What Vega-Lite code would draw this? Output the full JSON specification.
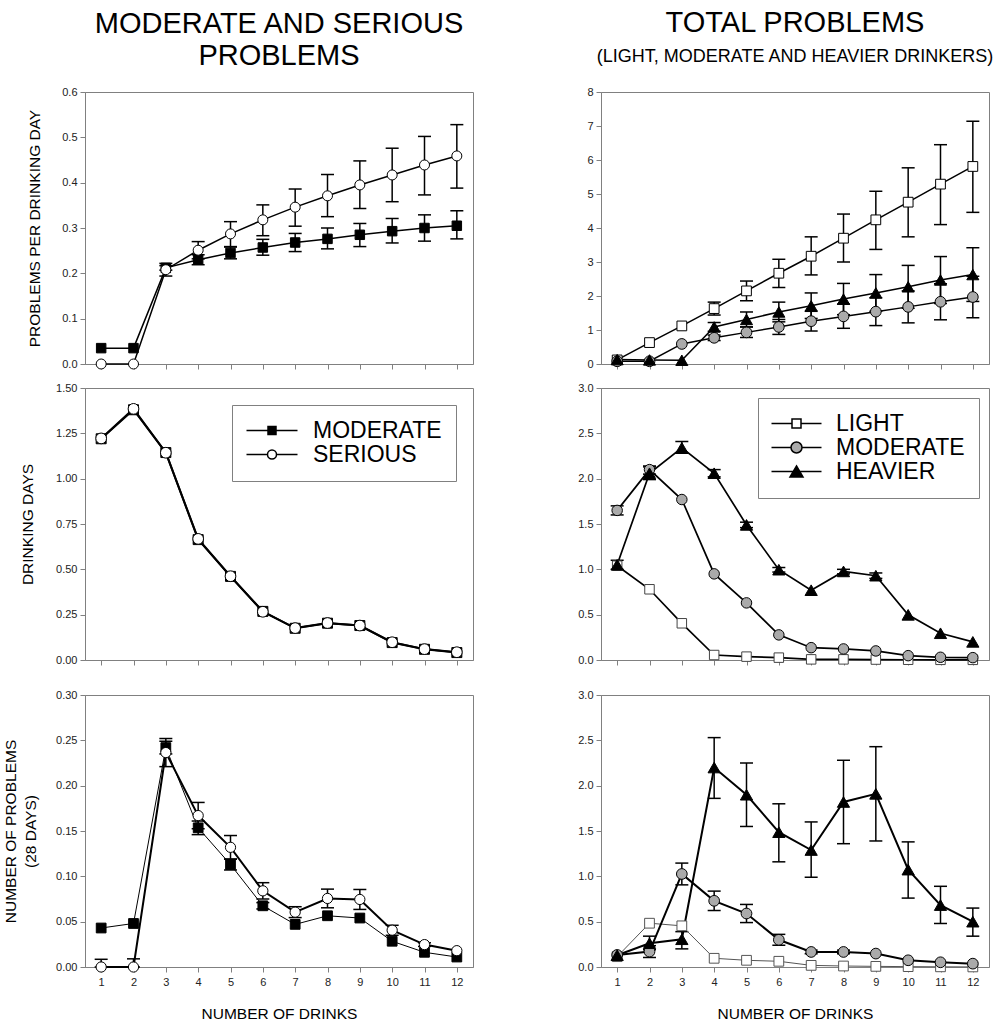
{
"$schema":"https://vega.github.io/schema/vega-lite/v6.json",
"background":"white",
"padding":{"left":2,"top":8,"right":5,"bottom":5},
"columns":2,
"spacing":{"row":9,"column":103},
"resolve":{"scale":{"fill":"independent","stroke":"independent","shape":"independent","size":"independent","strokeWidth":"independent","xOffset":"independent"}},
"datasets":{
"A":[
{"drinks":1,"group":"MODERATE","value":0.035},{"drinks":2,"group":"MODERATE","value":0.035},
{"drinks":3,"group":"MODERATE","value":0.212,"lo":0.207,"hi":0.217},{"drinks":4,"group":"MODERATE","value":0.230,"lo":0.219,"hi":0.241},
{"drinks":5,"group":"MODERATE","value":0.245,"lo":0.232,"hi":0.258},{"drinks":6,"group":"MODERATE","value":0.257,"lo":0.240,"hi":0.275},
{"drinks":7,"group":"MODERATE","value":0.268,"lo":0.248,"hi":0.288},{"drinks":8,"group":"MODERATE","value":0.276,"lo":0.254,"hi":0.300},
{"drinks":9,"group":"MODERATE","value":0.285,"lo":0.259,"hi":0.310},{"drinks":10,"group":"MODERATE","value":0.293,"lo":0.267,"hi":0.321},
{"drinks":11,"group":"MODERATE","value":0.300,"lo":0.271,"hi":0.329},{"drinks":12,"group":"MODERATE","value":0.305,"lo":0.276,"hi":0.338},
{"drinks":1,"group":"SERIOUS","value":0.0},{"drinks":2,"group":"SERIOUS","value":0.0},
{"drinks":3,"group":"SERIOUS","value":0.208,"lo":0.194,"hi":0.222},{"drinks":4,"group":"SERIOUS","value":0.251,"lo":0.232,"hi":0.270},
{"drinks":5,"group":"SERIOUS","value":0.287,"lo":0.259,"hi":0.314},{"drinks":6,"group":"SERIOUS","value":0.318,"lo":0.283,"hi":0.351},
{"drinks":7,"group":"SERIOUS","value":0.346,"lo":0.304,"hi":0.386},{"drinks":8,"group":"SERIOUS","value":0.371,"lo":0.325,"hi":0.418},
{"drinks":9,"group":"SERIOUS","value":0.395,"lo":0.343,"hi":0.448},{"drinks":10,"group":"SERIOUS","value":0.417,"lo":0.358,"hi":0.476},
{"drinks":11,"group":"SERIOUS","value":0.439,"lo":0.373,"hi":0.502},{"drinks":12,"group":"SERIOUS","value":0.459,"lo":0.388,"hi":0.528}
],
"B":[
{"drinks":1,"group":"LIGHT","value":0.12},{"drinks":2,"group":"LIGHT","value":0.63},{"drinks":3,"group":"LIGHT","value":1.12},
{"drinks":4,"group":"LIGHT","value":1.63,"lo":1.44,"hi":1.82},{"drinks":5,"group":"LIGHT","value":2.15,"lo":1.86,"hi":2.44},
{"drinks":6,"group":"LIGHT","value":2.67,"lo":2.25,"hi":3.08},{"drinks":7,"group":"LIGHT","value":3.17,"lo":2.62,"hi":3.74},
{"drinks":8,"group":"LIGHT","value":3.70,"lo":3.00,"hi":4.41},{"drinks":9,"group":"LIGHT","value":4.24,"lo":3.37,"hi":5.08},
{"drinks":10,"group":"LIGHT","value":4.76,"lo":3.74,"hi":5.77},{"drinks":11,"group":"LIGHT","value":5.29,"lo":4.10,"hi":6.45},
{"drinks":12,"group":"LIGHT","value":5.81,"lo":4.46,"hi":7.14},
{"drinks":1,"group":"MODERATE","value":0.08},{"drinks":2,"group":"MODERATE","value":0.08},{"drinks":3,"group":"MODERATE","value":0.59},
{"drinks":4,"group":"MODERATE","value":0.77,"lo":0.69,"hi":0.85},{"drinks":5,"group":"MODERATE","value":0.93,"lo":0.78,"hi":1.09},
{"drinks":6,"group":"MODERATE","value":1.09,"lo":0.87,"hi":1.31},{"drinks":7,"group":"MODERATE","value":1.26,"lo":0.97,"hi":1.55},
{"drinks":8,"group":"MODERATE","value":1.40,"lo":1.05,"hi":1.76},{"drinks":9,"group":"MODERATE","value":1.54,"lo":1.13,"hi":1.95},
{"drinks":10,"group":"MODERATE","value":1.68,"lo":1.21,"hi":2.15},{"drinks":11,"group":"MODERATE","value":1.83,"lo":1.30,"hi":2.36},
{"drinks":12,"group":"MODERATE","value":1.97,"lo":1.36,"hi":2.58},
{"drinks":1,"group":"HEAVIER","value":0.13},{"drinks":2,"group":"HEAVIER","value":0.12},{"drinks":3,"group":"HEAVIER","value":0.11},
{"drinks":4,"group":"HEAVIER","value":1.09,"lo":0.96,"hi":1.22},{"drinks":5,"group":"HEAVIER","value":1.31,"lo":1.09,"hi":1.53},
{"drinks":6,"group":"HEAVIER","value":1.53,"lo":1.24,"hi":1.82},{"drinks":7,"group":"HEAVIER","value":1.71,"lo":1.34,"hi":2.09},
{"drinks":8,"group":"HEAVIER","value":1.91,"lo":1.45,"hi":2.37},{"drinks":9,"group":"HEAVIER","value":2.09,"lo":1.55,"hi":2.63},
{"drinks":10,"group":"HEAVIER","value":2.27,"lo":1.64,"hi":2.90},{"drinks":11,"group":"HEAVIER","value":2.47,"lo":1.78,"hi":3.16},
{"drinks":12,"group":"HEAVIER","value":2.63,"lo":1.84,"hi":3.42}
],
"C":[
{"drinks":1,"group":"MODERATE","value":1.22},{"drinks":2,"group":"MODERATE","value":1.38},{"drinks":3,"group":"MODERATE","value":1.144},
{"drinks":4,"group":"MODERATE","value":0.664},{"drinks":5,"group":"MODERATE","value":0.461},{"drinks":6,"group":"MODERATE","value":0.268},
{"drinks":7,"group":"MODERATE","value":0.175},{"drinks":8,"group":"MODERATE","value":0.203},{"drinks":9,"group":"MODERATE","value":0.19},
{"drinks":10,"group":"MODERATE","value":0.096},{"drinks":11,"group":"MODERATE","value":0.059},{"drinks":12,"group":"MODERATE","value":0.041},
{"drinks":1,"group":"SERIOUS","value":1.222},{"drinks":2,"group":"SERIOUS","value":1.385},{"drinks":3,"group":"SERIOUS","value":1.143},
{"drinks":4,"group":"SERIOUS","value":0.668},{"drinks":5,"group":"SERIOUS","value":0.462},{"drinks":6,"group":"SERIOUS","value":0.266},
{"drinks":7,"group":"SERIOUS","value":0.176},{"drinks":8,"group":"SERIOUS","value":0.204},{"drinks":9,"group":"SERIOUS","value":0.19},
{"drinks":10,"group":"SERIOUS","value":0.098},{"drinks":11,"group":"SERIOUS","value":0.06},{"drinks":12,"group":"SERIOUS","value":0.043}
],
"D":[
{"drinks":1,"group":"LIGHT","value":1.04},{"drinks":2,"group":"LIGHT","value":0.78},{"drinks":3,"group":"LIGHT","value":0.405},
{"drinks":4,"group":"LIGHT","value":0.055},{"drinks":5,"group":"LIGHT","value":0.037},{"drinks":6,"group":"LIGHT","value":0.026},
{"drinks":7,"group":"LIGHT","value":0.007},{"drinks":8,"group":"LIGHT","value":0.007},{"drinks":9,"group":"LIGHT","value":0.005},
{"drinks":10,"group":"LIGHT","value":0.003},{"drinks":11,"group":"LIGHT","value":0.002},{"drinks":12,"group":"LIGHT","value":0.002},
{"drinks":1,"group":"MODERATE","value":1.65,"lo":1.60,"hi":1.70},{"drinks":2,"group":"MODERATE","value":2.10,"lo":2.05,"hi":2.14},
{"drinks":3,"group":"MODERATE","value":1.77},{"drinks":4,"group":"MODERATE","value":0.95},{"drinks":5,"group":"MODERATE","value":0.63},
{"drinks":6,"group":"MODERATE","value":0.277},{"drinks":7,"group":"MODERATE","value":0.136},{"drinks":8,"group":"MODERATE","value":0.122},
{"drinks":9,"group":"MODERATE","value":0.10},{"drinks":10,"group":"MODERATE","value":0.048},{"drinks":11,"group":"MODERATE","value":0.03},
{"drinks":12,"group":"MODERATE","value":0.026},
{"drinks":1,"group":"HEAVIER","value":1.05,"lo":1.00,"hi":1.10},{"drinks":2,"group":"HEAVIER","value":2.06,"lo":1.99,"hi":2.13},
{"drinks":3,"group":"HEAVIER","value":2.34,"lo":2.28,"hi":2.41},{"drinks":4,"group":"HEAVIER","value":2.06,"lo":2.02,"hi":2.10},
{"drinks":5,"group":"HEAVIER","value":1.49,"lo":1.46,"hi":1.52},{"drinks":6,"group":"HEAVIER","value":0.996,"lo":0.97,"hi":1.02},
{"drinks":7,"group":"HEAVIER","value":0.77},{"drinks":8,"group":"HEAVIER","value":0.977,"lo":0.95,"hi":1.00},
{"drinks":9,"group":"HEAVIER","value":0.93,"lo":0.90,"hi":0.96},{"drinks":10,"group":"HEAVIER","value":0.498},
{"drinks":11,"group":"HEAVIER","value":0.295},{"drinks":12,"group":"HEAVIER","value":0.20}
],
"E":[
{"drinks":1,"group":"MODERATE","value":0.043},{"drinks":2,"group":"MODERATE","value":0.048},
{"drinks":3,"group":"MODERATE","value":0.242,"lo":0.235,"hi":0.249},{"drinks":4,"group":"MODERATE","value":0.1535,"lo":0.146,"hi":0.161},
{"drinks":5,"group":"MODERATE","value":0.113,"lo":0.107,"hi":0.119},{"drinks":6,"group":"MODERATE","value":0.0675,"lo":0.064,"hi":0.071},
{"drinks":7,"group":"MODERATE","value":0.047},{"drinks":8,"group":"MODERATE","value":0.0565},{"drinks":9,"group":"MODERATE","value":0.054},
{"drinks":10,"group":"MODERATE","value":0.0284},{"drinks":11,"group":"MODERATE","value":0.0162},{"drinks":12,"group":"MODERATE","value":0.011},
{"drinks":1,"group":"SERIOUS","value":0.0,"lo":0.0,"hi":0.0085},{"drinks":2,"group":"SERIOUS","value":0.0,"lo":0.0,"hi":0.009},
{"drinks":3,"group":"SERIOUS","value":0.2365,"lo":0.221,"hi":0.252},{"drinks":4,"group":"SERIOUS","value":0.167,"lo":0.1525,"hi":0.1815},
{"drinks":5,"group":"SERIOUS","value":0.132,"lo":0.119,"hi":0.145},{"drinks":6,"group":"SERIOUS","value":0.084,"lo":0.075,"hi":0.093},
{"drinks":7,"group":"SERIOUS","value":0.0605,"lo":0.0545,"hi":0.0665},{"drinks":8,"group":"SERIOUS","value":0.0756,"lo":0.0653,"hi":0.0859},
{"drinks":9,"group":"SERIOUS","value":0.0745,"lo":0.0635,"hi":0.0855},{"drinks":10,"group":"SERIOUS","value":0.0406,"lo":0.035,"hi":0.046},
{"drinks":11,"group":"SERIOUS","value":0.0247,"lo":0.0227,"hi":0.0267},{"drinks":12,"group":"SERIOUS","value":0.018}
],
"F":[
{"drinks":1,"group":"LIGHT","value":0.114},{"drinks":2,"group":"LIGHT","value":0.483},{"drinks":3,"group":"LIGHT","value":0.454},
{"drinks":4,"group":"LIGHT","value":0.096},{"drinks":5,"group":"LIGHT","value":0.074},{"drinks":6,"group":"LIGHT","value":0.063},
{"drinks":7,"group":"LIGHT","value":0.018},{"drinks":8,"group":"LIGHT","value":0.011},{"drinks":9,"group":"LIGHT","value":0.007},
{"drinks":10,"group":"LIGHT","value":0.004},{"drinks":11,"group":"LIGHT","value":0.002},{"drinks":12,"group":"LIGHT","value":0.001},
{"drinks":1,"group":"MODERATE","value":0.133},{"drinks":2,"group":"MODERATE","value":0.17,"lo":0.105,"hi":0.235},
{"drinks":3,"group":"MODERATE","value":1.026,"lo":0.906,"hi":1.146},{"drinks":4,"group":"MODERATE","value":0.73,"lo":0.623,"hi":0.837},
{"drinks":5,"group":"MODERATE","value":0.59,"lo":0.49,"hi":0.69},{"drinks":6,"group":"MODERATE","value":0.30,"lo":0.24,"hi":0.36},
{"drinks":7,"group":"MODERATE","value":0.166,"lo":0.146,"hi":0.186},{"drinks":8,"group":"MODERATE","value":0.166,"lo":0.146,"hi":0.186},
{"drinks":9,"group":"MODERATE","value":0.148},{"drinks":10,"group":"MODERATE","value":0.074},{"drinks":11,"group":"MODERATE","value":0.052},
{"drinks":12,"group":"MODERATE","value":0.037},
{"drinks":1,"group":"HEAVIER","value":0.13},{"drinks":2,"group":"HEAVIER","value":0.262,"lo":0.19,"hi":0.34},
{"drinks":3,"group":"HEAVIER","value":0.306,"lo":0.2,"hi":0.39},{"drinks":4,"group":"HEAVIER","value":2.2,"lo":1.86,"hi":2.53},
{"drinks":5,"group":"HEAVIER","value":1.9,"lo":1.55,"hi":2.25},{"drinks":6,"group":"HEAVIER","value":1.487,"lo":1.16,"hi":1.80},
{"drinks":7,"group":"HEAVIER","value":1.29,"lo":0.99,"hi":1.60},{"drinks":8,"group":"HEAVIER","value":1.82,"lo":1.36,"hi":2.28},
{"drinks":9,"group":"HEAVIER","value":1.91,"lo":1.39,"hi":2.43},{"drinks":10,"group":"HEAVIER","value":1.074,"lo":0.76,"hi":1.38},
{"drinks":11,"group":"HEAVIER","value":0.683,"lo":0.48,"hi":0.89},{"drinks":12,"group":"HEAVIER","value":0.50,"lo":0.34,"hi":0.65}
]
},
"concat":[
{
"width":388,"height":272,"data":{"name":"A"},
"title":{"text":["MODERATE AND SERIOUS","PROBLEMS"],"lineHeight":32,"offset":15},
"encoding":{
"x":{"field":"drinks","type":"quantitative","scale":{"domain":[0.5,12.5],"nice":false,"zero":false},"axis":{"values":[1,2,3,4,5,6,7,8,9,10,11,12],"labels":false,"title":null}},
"xOffset":{"field":"group","type":"nominal","scale":{"type":"band","domain":["MODERATE","SERIOUS"],"range":[-6.5,6.5],"padding":0}}
},
"layer":[
{"transform":[{"filter":"isValid(datum.lo)"}],"mark":{"type":"rule","stroke":"black","strokeWidth":1.5},
"encoding":{"y":{"field":"lo","type":"quantitative","scale":{"domain":[0,0.6],"nice":false},"axis":{"values":[0,0.1,0.2,0.3,0.4,0.5,0.6],"format":".1f","title":"PROBLEMS PER DRINKING DAY","titleX":-51,"titleBaseline":"middle"}},"y2":{"field":"hi"}}},
{"transform":[{"filter":"isValid(datum.lo)"}],"mark":{"type":"point","shape":"M-1,0H1","filled":false,"stroke":"black","strokeWidth":1.5,"size":169,"opacity":1},
"encoding":{"y":{"field":"lo","type":"quantitative","scale":{"domain":[0,0.6],"nice":false},"axis":{"values":[0,0.1,0.2,0.3,0.4,0.5,0.6],"format":".1f","title":"PROBLEMS PER DRINKING DAY","titleX":-51,"titleBaseline":"middle"}}}},
{"transform":[{"filter":"isValid(datum.hi)"}],"mark":{"type":"point","shape":"M-1,0H1","filled":false,"stroke":"black","strokeWidth":1.5,"size":169,"opacity":1},
"encoding":{"y":{"field":"hi","type":"quantitative","scale":{"domain":[0,0.6],"nice":false},"axis":{"values":[0,0.1,0.2,0.3,0.4,0.5,0.6],"format":".1f","title":"PROBLEMS PER DRINKING DAY","titleX":-51,"titleBaseline":"middle"}}}},
{"mark":{"type":"line"},
"encoding":{"y":{"field":"value","type":"quantitative","scale":{"domain":[0,0.6],"nice":false},"axis":{"values":[0,0.1,0.2,0.3,0.4,0.5,0.6],"format":".1f","title":"PROBLEMS PER DRINKING DAY","titleX":-51,"titleBaseline":"middle"}},
"stroke":{"field":"group","type":"nominal","scale":{"domain":["MODERATE","SERIOUS"],"range":["black","black"]},"legend":null},
"strokeWidth":{"field":"group","type":"nominal","scale":{"type":"ordinal","domain":["MODERATE","SERIOUS"],"range":[1.5,1.5]},"legend":null}}},
{"mark":{"type":"point","filled":true,"opacity":1,"strokeWidth":1},
"encoding":{"y":{"field":"value","type":"quantitative","scale":{"domain":[0,0.6],"nice":false},"axis":{"values":[0,0.1,0.2,0.3,0.4,0.5,0.6],"format":".1f","title":"PROBLEMS PER DRINKING DAY","titleX":-51,"titleBaseline":"middle"}},
"shape":{"field":"group","type":"nominal","scale":{"domain":["MODERATE","SERIOUS"],"range":["square","circle"]},"legend":null},
"fill":{"field":"group","type":"nominal","scale":{"domain":["MODERATE","SERIOUS"],"range":["black","white"]},"legend":null},
"stroke":{"field":"group","type":"nominal","scale":{"domain":["MODERATE","SERIOUS"],"range":["black","black"]},"legend":null},
"size":{"field":"group","type":"nominal","scale":{"type":"ordinal","domain":["MODERATE","SERIOUS"],"range":[90,100]},"legend":null}}}
]
},
{
"width":388,"height":272,"data":{"name":"B"},
"title":{"text":"TOTAL PROBLEMS","subtitle":"(LIGHT, MODERATE AND HEAVIER DRINKERS)","offset":20,"subtitlePadding":10},
"encoding":{
"x":{"field":"drinks","type":"quantitative","scale":{"domain":[0.5,12.5],"nice":false,"zero":false},"axis":{"values":[1,2,3,4,5,6,7,8,9,10,11,12],"labels":false,"title":null}},
"xOffset":{"field":"group","type":"nominal","scale":{"type":"band","domain":["LIGHT","MODERATE","HEAVIER"],"range":[-5.5,5.5],"padding":0}}
},
"layer":[
{"transform":[{"filter":"isValid(datum.lo)"}],"mark":{"type":"rule","stroke":"black","strokeWidth":1.5},
"encoding":{"y":{"field":"lo","type":"quantitative","scale":{"domain":[0,8],"nice":false},"axis":{"values":[0,1,2,3,4,5,6,7,8],"format":"d","title":null}},"y2":{"field":"hi"}}},
{"transform":[{"filter":"isValid(datum.lo)"}],"mark":{"type":"point","shape":"M-1,0H1","filled":false,"stroke":"black","strokeWidth":1.5,"size":169,"opacity":1},
"encoding":{"y":{"field":"lo","type":"quantitative","scale":{"domain":[0,8],"nice":false},"axis":{"values":[0,1,2,3,4,5,6,7,8],"format":"d","title":null}}}},
{"transform":[{"filter":"isValid(datum.hi)"}],"mark":{"type":"point","shape":"M-1,0H1","filled":false,"stroke":"black","strokeWidth":1.5,"size":169,"opacity":1},
"encoding":{"y":{"field":"hi","type":"quantitative","scale":{"domain":[0,8],"nice":false},"axis":{"values":[0,1,2,3,4,5,6,7,8],"format":"d","title":null}}}},
{"mark":{"type":"line"},
"encoding":{"y":{"field":"value","type":"quantitative","scale":{"domain":[0,8],"nice":false},"axis":{"values":[0,1,2,3,4,5,6,7,8],"format":"d","title":null}},
"stroke":{"field":"group","type":"nominal","scale":{"domain":["LIGHT","MODERATE","HEAVIER"],"range":["black","black","black"]},"legend":null},
"strokeWidth":{"field":"group","type":"nominal","scale":{"type":"ordinal","domain":["LIGHT","MODERATE","HEAVIER"],"range":[1.5,1.5,1.5]},"legend":null}}},
{"mark":{"type":"point","filled":true,"opacity":1,"strokeWidth":1},
"encoding":{"y":{"field":"value","type":"quantitative","scale":{"domain":[0,8],"nice":false},"axis":{"values":[0,1,2,3,4,5,6,7,8],"format":"d","title":null}},
"shape":{"field":"group","type":"nominal","scale":{"domain":["LIGHT","MODERATE","HEAVIER"],"range":["square","circle","triangle-up"]},"legend":null},
"fill":{"field":"group","type":"nominal","scale":{"domain":["LIGHT","MODERATE","HEAVIER"],"range":["white","#aaaaaa","black"]},"legend":null},
"stroke":{"field":"group","type":"nominal","scale":{"domain":["LIGHT","MODERATE","HEAVIER"],"range":["black","black","black"]},"legend":null},
"size":{"field":"group","type":"nominal","scale":{"type":"ordinal","domain":["LIGHT","MODERATE","HEAVIER"],"range":[95,115,145]},"legend":null}}}
]
},
{
"width":388,"height":272,"data":{"name":"C"},
"encoding":{
"x":{"field":"drinks","type":"quantitative","scale":{"domain":[0.5,12.5],"nice":false,"zero":false},"axis":{"values":[1,2,3,4,5,6,7,8,9,10,11,12],"labels":false,"title":null,"minExtent":18}},
"xOffset":{"field":"group","type":"nominal","scale":{"type":"band","domain":["MODERATE","SERIOUS"],"range":[-7,7],"padding":0}},
"y":{"field":"value","type":"quantitative","scale":{"domain":[0,1.5],"nice":false},"axis":{"values":[0,0.25,0.5,0.75,1,1.25,1.5],"format":".2f","title":"DRINKING DAYS","titleX":-58,"titleBaseline":"middle"}}
},
"layer":[
{"mark":{"type":"line","stroke":"black","strokeWidth":2},"encoding":{"detail":{"field":"group","type":"nominal"}}},
{"transform":[{"filter":"datum.group === 'MODERATE'"}],"mark":{"type":"point","shape":"square","filled":true,"fill":"black","stroke":"black","strokeWidth":1,"size":100,"opacity":1},"encoding":{}},
{"transform":[{"filter":"datum.group === 'SERIOUS'"}],"mark":{"type":"point","shape":"circle","filled":true,"fill":"white","stroke":"black","strokeWidth":1,"size":115,"opacity":1},"encoding":{}},
{"mark":{"type":"point","filled":true,"opacity":0},
"encoding":{
"shape":{"field":"group","type":"nominal","scale":{"domain":["MODERATE","SERIOUS"],"range":["M-5.1,0H-0.8M0.8,0H5.1M-0.8,-0.8H0.8V0.8H-0.8Z","M-5.1,0H-0.9M0.9,0H5.1M0.9,0C0.9,0.497 0.497,0.9 0,0.9C-0.497,0.9 -0.9,0.497 -0.9,0C-0.9,-0.497 -0.497,-0.9 0,-0.9C0.497,-0.9 0.9,-0.497 0.9,0Z"]},
"legend":{"title":null,"orient":"top-right","offset":17,"symbolSize":100,"symbolOffset":14.5,"labelOffset":29.5,"symbolOpacity":1,"symbolStrokeWidth":1.5}},
"fill":{"field":"group","type":"nominal","scale":{"domain":["MODERATE","SERIOUS"],"range":["black","white"]},
"legend":{"title":null,"orient":"top-right","offset":17,"symbolSize":100,"symbolOffset":14.5,"labelOffset":29.5,"symbolOpacity":1,"symbolStrokeWidth":1.5}},
"stroke":{"field":"group","type":"nominal","scale":{"domain":["MODERATE","SERIOUS"],"range":["black","black"]},
"legend":{"title":null,"orient":"top-right","offset":17,"symbolSize":100,"symbolOffset":14.5,"labelOffset":29.5,"symbolOpacity":1,"symbolStrokeWidth":1.5}}}}
]
},
{
"width":388,"height":272,"data":{"name":"D"},
"encoding":{
"x":{"field":"drinks","type":"quantitative","scale":{"domain":[0.5,12.5],"nice":false,"zero":false},"axis":{"values":[1,2,3,4,5,6,7,8,9,10,11,12],"labels":false,"title":null,"minExtent":18}},
"xOffset":{"field":"group","type":"nominal","scale":{"type":"band","domain":["LIGHT","MODERATE","HEAVIER"],"range":[-5.5,5.5],"padding":0}},
"y":{"field":"value","type":"quantitative","scale":{"domain":[0,3],"nice":false},"axis":{"values":[0,0.5,1,1.5,2,2.5,3],"format":".1f","title":null}}
},
"layer":[
{"transform":[{"filter":"isValid(datum.lo)"}],"mark":{"type":"rule","stroke":"black","strokeWidth":1.5},
"encoding":{"y":{"field":"lo","type":"quantitative","scale":{"domain":[0,3],"nice":false},"axis":{"values":[0,0.5,1,1.5,2,2.5,3],"format":".1f","title":null}},"y2":{"field":"hi"}}},
{"transform":[{"filter":"isValid(datum.lo)"}],"mark":{"type":"point","shape":"M-1,0H1","filled":false,"stroke":"black","strokeWidth":1.5,"size":169,"opacity":1},
"encoding":{"y":{"field":"lo","type":"quantitative","scale":{"domain":[0,3],"nice":false},"axis":{"values":[0,0.5,1,1.5,2,2.5,3],"format":".1f","title":null}}}},
{"transform":[{"filter":"isValid(datum.hi)"}],"mark":{"type":"point","shape":"M-1,0H1","filled":false,"stroke":"black","strokeWidth":1.5,"size":169,"opacity":1},
"encoding":{"y":{"field":"hi","type":"quantitative","scale":{"domain":[0,3],"nice":false},"axis":{"values":[0,0.5,1,1.5,2,2.5,3],"format":".1f","title":null}}}},
{"mark":{"type":"line","stroke":"black","strokeWidth":1.7},"encoding":{"detail":{"field":"group","type":"nominal"}}},
{"transform":[{"filter":"datum.group === 'LIGHT'"}],"mark":{"type":"point","shape":"square","filled":true,"fill":"white","stroke":"#444444","strokeWidth":1,"size":90,"opacity":1},"encoding":{}},
{"transform":[{"filter":"datum.group === 'MODERATE'"}],"mark":{"type":"point","shape":"circle","filled":true,"fill":"#aaaaaa","stroke":"black","strokeWidth":1,"size":110,"opacity":1},"encoding":{}},
{"transform":[{"filter":"datum.group === 'HEAVIER'"}],"mark":{"type":"point","shape":"triangle-up","filled":true,"fill":"black","stroke":"black","strokeWidth":1,"size":150,"opacity":1},"encoding":{}},
{"mark":{"type":"point","filled":true,"opacity":0},
"encoding":{
"shape":{"field":"group","type":"nominal","scale":{"domain":["LIGHT","MODERATE","HEAVIER"],"range":["M-5,0H-0.9M0.9,0H5M-0.9,-0.9H0.9V0.9H-0.9Z","M-5,0H-1.1M1.1,0H5M1.1,0C1.1,0.6075 0.6075,1.1 0,1.1C-0.6075,1.1 -1.1,0.6075 -1.1,0C-1.1,-0.6075 -0.6075,-1.1 0,-1.1C0.6075,-1.1 1.1,-0.6075 1.1,0Z","M-5,0H-0.65M0.65,0H5M0,-1.1L1.3,1.1L-1.3,1.1Z"]},
"legend":{"title":null,"orient":"top-right","offset":10,"symbolSize":100,"symbolOffset":13,"labelOffset":28,"symbolOpacity":1,"symbolStrokeWidth":1.5}},
"fill":{"field":"group","type":"nominal","scale":{"domain":["LIGHT","MODERATE","HEAVIER"],"range":["white","#aaaaaa","black"]},
"legend":{"title":null,"orient":"top-right","offset":10,"symbolSize":100,"symbolOffset":13,"labelOffset":28,"symbolOpacity":1,"symbolStrokeWidth":1.5}},
"stroke":{"field":"group","type":"nominal","scale":{"domain":["LIGHT","MODERATE","HEAVIER"],"range":["black","black","black"]},
"legend":{"title":null,"orient":"top-right","offset":10,"symbolSize":100,"symbolOffset":13,"labelOffset":28,"symbolOpacity":1,"symbolStrokeWidth":1.5}}}}
]
},
{
"width":388,"height":272,"data":{"name":"E"},
"encoding":{
"x":{"field":"drinks","type":"quantitative","scale":{"domain":[0.5,12.5],"nice":false,"zero":false},"axis":{"values":[1,2,3,4,5,6,7,8,9,10,11,12],"format":"d","title":"NUMBER OF DRINKS","titlePadding":19}},
"xOffset":{"field":"group","type":"nominal","scale":{"type":"band","domain":["MODERATE","SERIOUS"],"range":[-6.5,6.5],"padding":0}}
},
"layer":[
{"transform":[{"filter":"isValid(datum.lo)"}],"mark":{"type":"rule","stroke":"black","strokeWidth":1.5},
"encoding":{"y":{"field":"lo","type":"quantitative","scale":{"domain":[0,0.3],"nice":false},"axis":{"values":[0,0.05,0.1,0.15,0.2,0.25,0.3],"format":".2f","title":["NUMBER OF PROBLEMS","(28 DAYS)"],"titleX":-75,"titleBaseline":"middle","titleLineHeight":20}},"y2":{"field":"hi"}}},
{"transform":[{"filter":"isValid(datum.lo)"}],"mark":{"type":"point","shape":"M-1,0H1","filled":false,"stroke":"black","strokeWidth":1.5,"size":169,"opacity":1},
"encoding":{"y":{"field":"lo","type":"quantitative","scale":{"domain":[0,0.3],"nice":false},"axis":{"values":[0,0.05,0.1,0.15,0.2,0.25,0.3],"format":".2f","title":["NUMBER OF PROBLEMS","(28 DAYS)"],"titleX":-75,"titleBaseline":"middle","titleLineHeight":20}}}},
{"transform":[{"filter":"isValid(datum.hi)"}],"mark":{"type":"point","shape":"M-1,0H1","filled":false,"stroke":"black","strokeWidth":1.5,"size":169,"opacity":1},
"encoding":{"y":{"field":"hi","type":"quantitative","scale":{"domain":[0,0.3],"nice":false},"axis":{"values":[0,0.05,0.1,0.15,0.2,0.25,0.3],"format":".2f","title":["NUMBER OF PROBLEMS","(28 DAYS)"],"titleX":-75,"titleBaseline":"middle","titleLineHeight":20}}}},
{"mark":{"type":"line"},
"encoding":{"y":{"field":"value","type":"quantitative","scale":{"domain":[0,0.3],"nice":false},"axis":{"values":[0,0.05,0.1,0.15,0.2,0.25,0.3],"format":".2f","title":["NUMBER OF PROBLEMS","(28 DAYS)"],"titleX":-75,"titleBaseline":"middle","titleLineHeight":20}},
"stroke":{"field":"group","type":"nominal","scale":{"domain":["MODERATE","SERIOUS"],"range":["black","black"]},"legend":null},
"strokeWidth":{"field":"group","type":"nominal","scale":{"type":"ordinal","domain":["MODERATE","SERIOUS"],"range":[1,2]},"legend":null}}},
{"mark":{"type":"point","filled":true,"opacity":1,"strokeWidth":1},
"encoding":{"y":{"field":"value","type":"quantitative","scale":{"domain":[0,0.3],"nice":false},"axis":{"values":[0,0.05,0.1,0.15,0.2,0.25,0.3],"format":".2f","title":["NUMBER OF PROBLEMS","(28 DAYS)"],"titleX":-75,"titleBaseline":"middle","titleLineHeight":20}},
"shape":{"field":"group","type":"nominal","scale":{"domain":["MODERATE","SERIOUS"],"range":["square","circle"]},"legend":null},
"fill":{"field":"group","type":"nominal","scale":{"domain":["MODERATE","SERIOUS"],"range":["black","white"]},"legend":null},
"stroke":{"field":"group","type":"nominal","scale":{"domain":["MODERATE","SERIOUS"],"range":["black","black"]},"legend":null},
"size":{"field":"group","type":"nominal","scale":{"type":"ordinal","domain":["MODERATE","SERIOUS"],"range":[95,105]},"legend":null}}}
]
},
{
"width":388,"height":272,"data":{"name":"F"},
"encoding":{
"x":{"field":"drinks","type":"quantitative","scale":{"domain":[0.5,12.5],"nice":false,"zero":false},"axis":{"values":[1,2,3,4,5,6,7,8,9,10,11,12],"format":"d","title":"NUMBER OF DRINKS","titlePadding":19}},
"xOffset":{"field":"group","type":"nominal","scale":{"type":"band","domain":["LIGHT","MODERATE","HEAVIER"],"range":[-5.5,5.5],"padding":0}}
},
"layer":[
{"transform":[{"filter":"isValid(datum.lo)"}],"mark":{"type":"rule","stroke":"black","strokeWidth":1.5},
"encoding":{"y":{"field":"lo","type":"quantitative","scale":{"domain":[0,3],"nice":false},"axis":{"values":[0,0.5,1,1.5,2,2.5,3],"format":".1f","title":null}},"y2":{"field":"hi"}}},
{"transform":[{"filter":"isValid(datum.lo)"}],"mark":{"type":"point","shape":"M-1,0H1","filled":false,"stroke":"black","strokeWidth":1.5,"size":169,"opacity":1},
"encoding":{"y":{"field":"lo","type":"quantitative","scale":{"domain":[0,3],"nice":false},"axis":{"values":[0,0.5,1,1.5,2,2.5,3],"format":".1f","title":null}}}},
{"transform":[{"filter":"isValid(datum.hi)"}],"mark":{"type":"point","shape":"M-1,0H1","filled":false,"stroke":"black","strokeWidth":1.5,"size":169,"opacity":1},
"encoding":{"y":{"field":"hi","type":"quantitative","scale":{"domain":[0,3],"nice":false},"axis":{"values":[0,0.5,1,1.5,2,2.5,3],"format":".1f","title":null}}}},
{"mark":{"type":"line"},
"encoding":{"y":{"field":"value","type":"quantitative","scale":{"domain":[0,3],"nice":false},"axis":{"values":[0,0.5,1,1.5,2,2.5,3],"format":".1f","title":null}},
"stroke":{"field":"group","type":"nominal","scale":{"domain":["LIGHT","MODERATE","HEAVIER"],"range":["#555555","black","black"]},"legend":null},
"strokeWidth":{"field":"group","type":"nominal","scale":{"type":"ordinal","domain":["LIGHT","MODERATE","HEAVIER"],"range":[1,2,2]},"legend":null}}},
{"mark":{"type":"point","filled":true,"opacity":1,"strokeWidth":1},
"encoding":{"y":{"field":"value","type":"quantitative","scale":{"domain":[0,3],"nice":false},"axis":{"values":[0,0.5,1,1.5,2,2.5,3],"format":".1f","title":null}},
"shape":{"field":"group","type":"nominal","scale":{"domain":["LIGHT","MODERATE","HEAVIER"],"range":["square","circle","triangle-up"]},"legend":null},
"fill":{"field":"group","type":"nominal","scale":{"domain":["LIGHT","MODERATE","HEAVIER"],"range":["white","#aaaaaa","black"]},"legend":null},
"stroke":{"field":"group","type":"nominal","scale":{"domain":["LIGHT","MODERATE","HEAVIER"],"range":["#555555","black","black"]},"legend":null},
"size":{"field":"group","type":"nominal","scale":{"type":"ordinal","domain":["LIGHT","MODERATE","HEAVIER"],"range":[95,115,150]},"legend":null}}}
]
}
],
"config":{
"font":"Liberation Sans",
"view":{"stroke":"#808080","strokeWidth":1},
"axis":{"grid":false,"domainColor":"#808080","tickColor":"#808080","tickSize":5,"labelFont":"Liberation Sans","labelFontSize":11,"labelColor":"#222222","titleFont":"Liberation Sans","titleFontSize":15.5,"titleFontWeight":"normal","titleColor":"black"},
"axisX":{"labelPadding":4,"labelAngle":0},
"axisY":{"labelPadding":3},
"title":{"font":"Liberation Sans","fontSize":29,"fontWeight":"normal","color":"black","frame":"group","anchor":"middle","subtitleFont":"Liberation Sans","subtitleFontSize":18,"subtitleColor":"black"},
"legend":{"labelFont":"Liberation Sans","labelFontSize":23,"labelColor":"black","strokeColor":"#808080","fillColor":"white","padding":14,"rowPadding":0,"symbolStrokeWidth":1.5}
}
}
